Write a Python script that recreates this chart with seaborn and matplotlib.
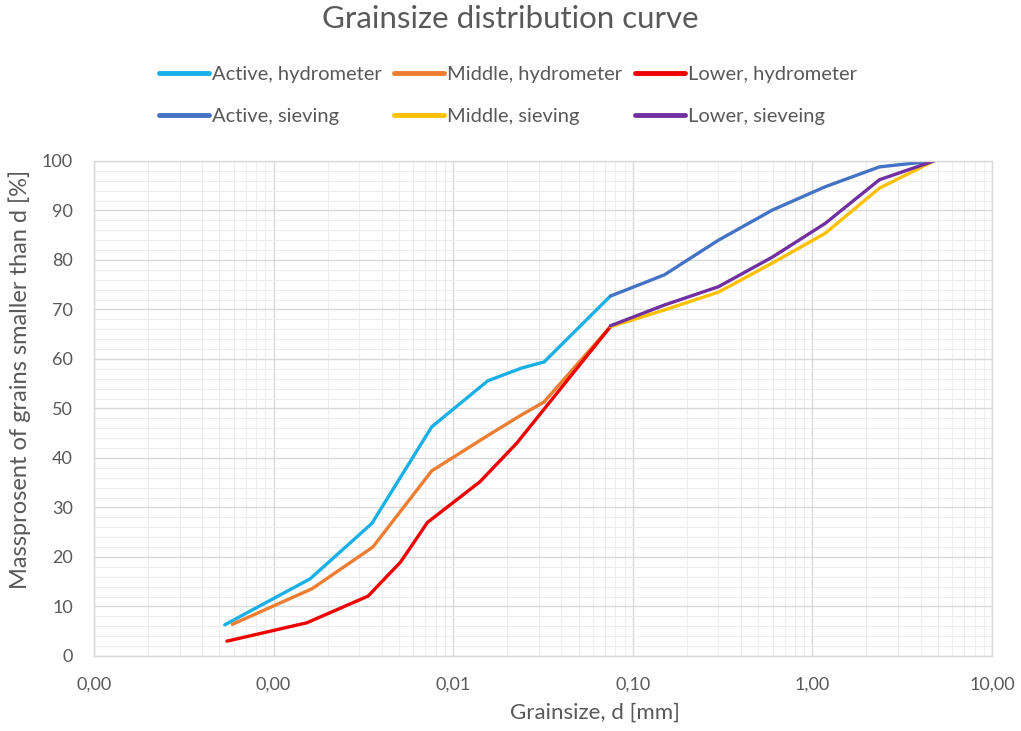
import pandas as pd
import matplotlib
matplotlib.use('Agg')
import matplotlib.pyplot as plt
import matplotlib.ticker as mticker
import seaborn as sb
import numpy as np

# Hydrometer series (grain size in mm, % passing)
active_hyd_d = [0.000535, 0.0016, 0.00353, 0.0076, 0.0156, 0.0242, 0.0321, 0.075]
active_hyd_p = [6.3, 15.6, 26.8, 46.3, 55.6, 58.2, 59.4, 72.7]
middle_hyd_d = [0.00059, 0.00164, 0.00357, 0.0076, 0.0157, 0.0235, 0.032, 0.075]
middle_hyd_p = [6.4, 13.6, 22.0, 37.4, 44.6, 48.5, 51.3, 66.5]
lower_hyd_d = [0.00055, 0.00153, 0.00336, 0.0051, 0.0072, 0.0141, 0.0226, 0.075]
lower_hyd_p = [3.0, 6.7, 12.1, 19.0, 27.0, 35.2, 43.0, 66.5]

# Sieving series
sieve_d = [0.075, 0.15, 0.3, 0.6, 1.18, 2.36, 4.75]
active_sieve_p = [72.7, 77.0, 84.0, 90.1, 94.8, 98.8, 100.0]
middle_sieve_p = [66.5, 69.9, 73.5, 79.4, 85.4, 94.5, 100.0]
lower_sieve_p = [66.7, 70.9, 74.6, 80.6, 87.4, 96.2, 100.0]

names = ['Active, hydrometer', 'Middle, hydrometer', 'Lower, hydrometer',
         'Active, sieving', 'Middle, sieving', 'Lower, sieveing']
colors = ['#1AAFE6', '#ED7D31', '#EE0000', '#4472C4', '#FFC000', '#7030A0']

series = [(active_hyd_d, active_hyd_p), (middle_hyd_d, middle_hyd_p), (lower_hyd_d, lower_hyd_p),
          (sieve_d, active_sieve_p), (sieve_d, middle_sieve_p), (sieve_d, lower_sieve_p)]

frames = []
for name, (d, p) in zip(names, series):
    frames.append(pd.DataFrame({'d': d, 'p': p, 'series': name}))
data = pd.concat(frames, ignore_index=True)

sb.set_style('white')
plt.rcParams['font.family'] = ['Lato', 'DejaVu Sans']
grey = '#595959'

fig = plt.figure(figsize=(10.21, 7.31), dpi=100)
ax = fig.add_axes([0.092, 0.1026, 0.8796, 0.6772])

sb.lineplot(data=data, x='d', y='p', hue='series', hue_order=names,
            palette=dict(zip(names, colors)), sort=False, estimator=None,
            linewidth=2.4, ax=ax, legend=False)

ax.set_xscale('log')
ax.set_xlim(0.0001, 10)
ax.set_ylim(0, 100)
ax.xaxis.set_major_locator(mticker.LogLocator(base=10, numticks=10))
ax.xaxis.set_minor_locator(mticker.LogLocator(base=10, subs=np.arange(2, 10), numticks=50))
ax.xaxis.set_major_formatter(mticker.FuncFormatter(lambda v, pos: f'{v:.2f}'.replace('.', ',')))
ax.xaxis.set_minor_formatter(mticker.NullFormatter())
ax.yaxis.set_major_locator(mticker.MultipleLocator(10))
ax.yaxis.set_minor_locator(mticker.MultipleLocator(2))

ax.grid(which='major', color='#D9D9D9', linewidth=1.0)
ax.grid(which='minor', color='#EEEEEE', linewidth=0.8)
ax.set_axisbelow(True)
for s in ax.spines.values():
    s.set_color('#D9D9D9')
    s.set_linewidth(1.0)

ax.tick_params(which='both', length=0, colors=grey, labelsize=13, pad=15)
ax.set_xlabel('')
ax.set_ylabel('')
# axis titles sit a bit off-centre in the original
fig.text(595 / 1021, 1 - 713 / 731, 'Grainsize, d [mm]', fontsize=16, color=grey,
         ha='center', va='center')
fig.text(20 / 1021, 1 - 379 / 731, 'Massprosent of grains smaller than d [%]', fontsize=17,
         color=grey, ha='center', va='center', rotation=90)

fig.text(0.5, 1 - 19 / 731, 'Grainsize distribution curve', fontsize=22.5, color=grey,
         ha='center', va='center')

# legend rows: hydrometer on top, sieving below
handles = [plt.Line2D([], [], color=c, linewidth=3.5) for c in colors]
order = [0, 3, 1, 4, 2, 5]
fig.legend([handles[i] for i in order], [names[i] for i in order], ncol=3,
           loc='upper center', bbox_to_anchor=(508 / 1021, 0.934), frameon=False,
           fontsize=14.5, labelcolor=grey, handlelength=2.5, handletextpad=0.15,
           columnspacing=0.6, labelspacing=1.2)

fig.savefig('out.png', dpi=100)
